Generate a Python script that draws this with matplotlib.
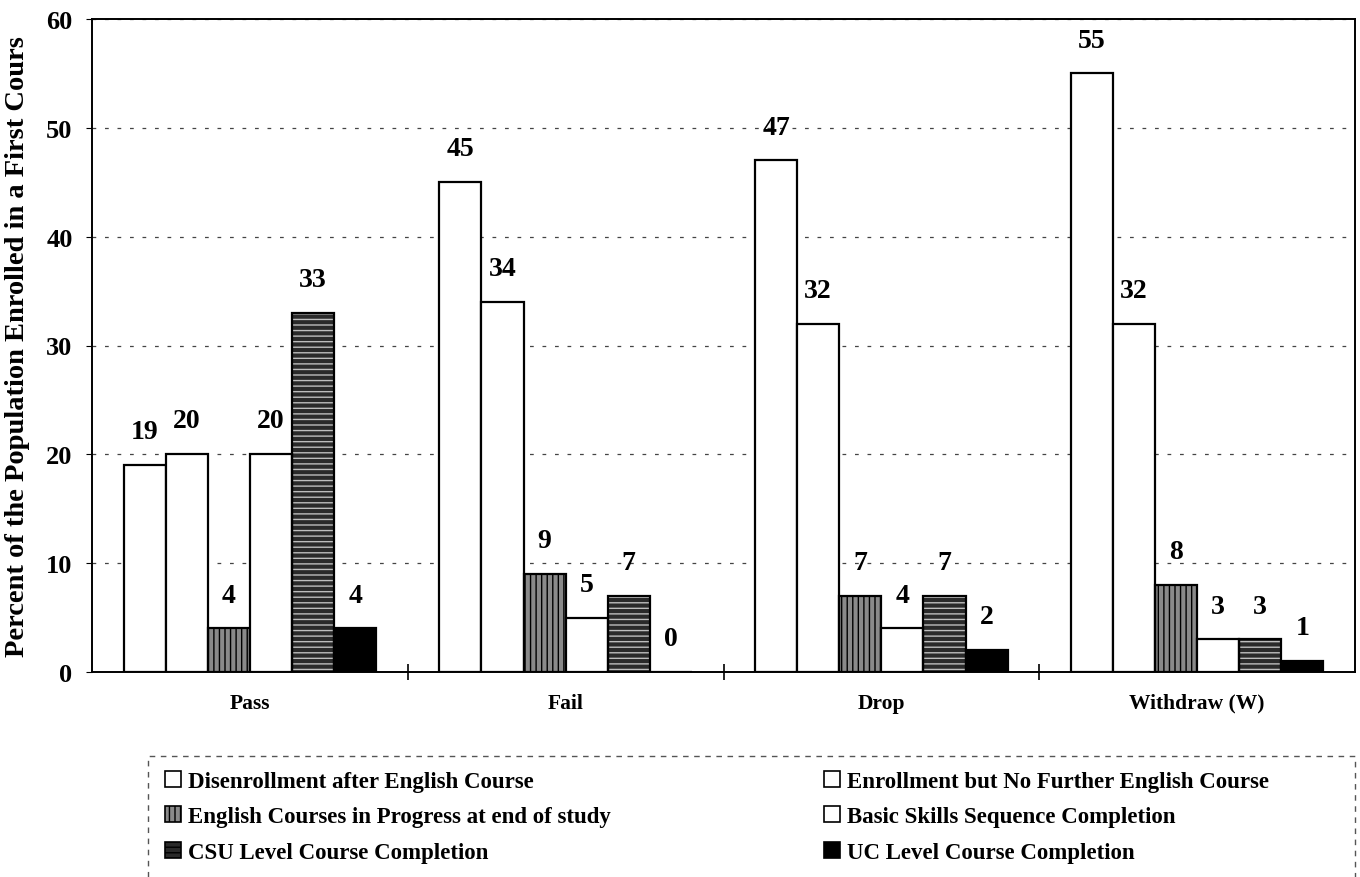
import numpy as np
import matplotlib
matplotlib.use("Agg")
import matplotlib.pyplot as plt
from matplotlib.patches import Patch, Rectangle

plt.rcParams['font.family'] = ['Liberation Serif', 'DejaVu Serif']
plt.rcParams['font.weight'] = 'bold'
plt.rcParams['hatch.linewidth'] = 1.0

categories = ["Pass", "Fail", "Drop", "Withdraw (W)"]
series_names = [
    "Disenrollment after English Course",
    "Enrollment but No Further English Course",
    "English Courses in Progress at end of study",
    "Basic Skills Sequence Completion",
    "CSU Level Course Completion",
    "UC Level Course Completion",
]
disenroll = [19, 45, 47, 55]
enroll_no_further = [20, 34, 32, 32]
in_progress = [4, 9, 7, 8]
basic_skills = [20, 5, 4, 3]
csu_level = [33, 7, 7, 3]
uc_level = [4, 0, 2, 1]
values = [disenroll, enroll_no_further, in_progress, basic_skills, csu_level, uc_level]

# fill, hatch, hatch colour
styles = [
    ("white", None, None),
    ("white", None, None),
    ("#8a8a8a", "|||", "black"),
    ("white", None, None),
    ("#2a2a2a", "---", "#bdbdbd"),
    ("black", None, None),
]

fig = plt.figure(figsize=(13.6, 8.78), dpi=100)
ax = fig.add_axes([92/1360, 1-673/878, 1263/1360, 653/878])

x = np.arange(len(categories))
w = 0.1333
for i, vals in enumerate(values):
    pos = x + (i - 2.5) * w
    fc, hatch, hc = styles[i]
    if hatch:
        ax.bar(pos, vals, w, color=fc, hatch=hatch, edgecolor=hc, linewidth=0, zorder=2)
        ax.bar(pos, vals, w, fill=False, edgecolor="black", linewidth=1.6, zorder=3)
    else:
        ax.bar(pos, vals, w, color=fc, edgecolor="black", linewidth=1.6, zorder=3)
    for p, v in zip(pos, vals):
        ax.annotate(str(v), (p, v), xytext=(0, 24), textcoords="offset points",
                    ha="center", va="center", fontsize=20, fontweight="bold")

ax.set_xlim(-0.5, 3.5)
ax.set_ylim(0, 60)
ax.set_yticks(range(0, 61, 10))
ax.tick_params(axis="y", labelsize=19, length=4, direction="out", pad=10)
ax.set_xticks(x)
ax.set_xticklabels(categories, fontsize=15.5, fontweight="bold")
ax.tick_params(axis="x", which="major", length=0, pad=15)
ax.set_xticks([0.5, 1.5, 2.5], minor=True)
ax.tick_params(axis="x", which="minor", length=12, direction="inout", width=1.2)
ax.yaxis.grid(True, linestyle=(0, (3, 7)), color="#444444", linewidth=0.9, zorder=0)
ax.set_axisbelow(True)
for s in ax.spines.values():
    s.set_linewidth(1.4)
ax.set_ylabel("Percent of the Population Enrolled in a First Cours", fontsize=20.5,
              fontweight="bold", labelpad=12)

handles = []
for i, name in enumerate(series_names):
    fc, hatch, hc = styles[i]
    handles.append(Patch(facecolor=fc, hatch=hatch, edgecolor="black", linewidth=1.2, label=name))
order = [0, 2, 4, 1, 3, 5]
leg = fig.legend([handles[k] for k in order], [series_names[k] for k in order],
                 loc="upper left", bbox_to_anchor=(165/1360, 1-772/878), ncol=2,
                 frameon=False, fontsize=16.5, handlelength=0.7, handleheight=0.7,
                 handletextpad=0.3, labelspacing=0.62, columnspacing=9.3,
                 borderaxespad=0, borderpad=0)
fig.patches.append(Rectangle((148/1360, -0.05), 1207/1360, 0.05 + (878-757)/878,
                             transform=fig.transFigure, fill=False, edgecolor="#555555",
                             linestyle=(0, (4, 4)), linewidth=1.0))

fig.savefig("out.png", dpi=100)
